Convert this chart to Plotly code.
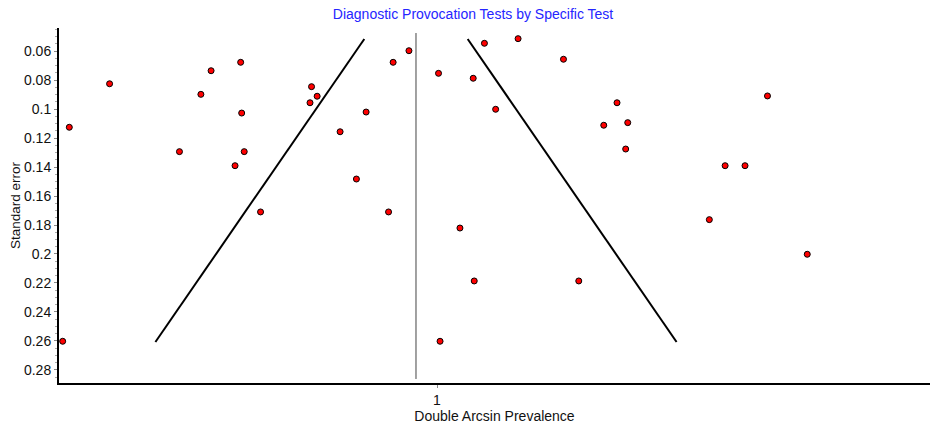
import plotly.graph_objects as go

# -- Study estimates (double arcsin prevalence) and their standard errors
prevalence = [
    0.279, 0.358, 0.495, 0.537, 0.557, 0.615, 0.617, 0.622, 0.604, 0.754,
    0.765, 0.751, 0.810, 0.842, 0.861, 0.914, 0.945, 0.654, 0.905, 0.266,
    1.003, 1.093, 1.159, 1.248, 1.071, 1.115, 1.353, 1.327, 1.374, 1.370,
    1.648, 1.565, 1.604, 1.534, 1.045, 1.006, 1.073, 1.278, 1.726,
]
std_error = [
    0.1126, 0.0826, 0.1294, 0.0899, 0.0736, 0.0678, 0.1028, 0.1294, 0.1391, 0.0846,
    0.0912, 0.0957, 0.1157, 0.1483, 0.1021, 0.0678, 0.0598, 0.1710, 0.1710, 0.2602,
    0.0754, 0.0547, 0.0515, 0.0657, 0.0788, 0.1002, 0.0957, 0.1112, 0.1094, 0.1276,
    0.0910, 0.1391, 0.1391, 0.1763, 0.1821, 0.2602, 0.2186, 0.2186, 0.2002,
]

# -- Pooled estimate and funnel limits
pooled = 0.9588
funnel_se = [0.0517, 0.2607]
pooled_se_span = [0.0476, 0.2862]
y_ticks = [0.06, 0.08, 0.1, 0.12, 0.14, 0.16, 0.18, 0.2, 0.22, 0.24, 0.26, 0.28]
x_ticks = [1]

FONT = "Liberation Sans, Arial, sans-serif"
W, H = 930, 430

fig = go.Figure()

# -- 95% pseudo confidence limits
for sign in (-1, 1):
    fig.add_trace(
        go.Scatter(
            x=[pooled + sign * 1.96 * s for s in funnel_se],
            y=funnel_se,
            mode="lines",
            line=dict(color="black", width=2),
            hoverinfo="skip",
            showlegend=False,
        )
    )

# -- Pooled estimate line
fig.add_trace(
    go.Scatter(
        x=[pooled, pooled],
        y=pooled_se_span,
        mode="lines",
        line=dict(color="#444444", width=1),
        hoverinfo="skip",
        showlegend=False,
    )
)

fig.add_trace(
    go.Scatter(
        x=prevalence,
        y=std_error,
        mode="markers",
        marker=dict(color="#ff0000", size=6, line=dict(color="black", width=1)),
        showlegend=False,
    )
)

fig.update_layout(
    width=W,
    height=H,
    margin=dict(l=59, r=0, t=28, b=47),
    paper_bgcolor="white",
    plot_bgcolor="white",
    font=dict(family=FONT, size=14, color="#111111"),
    title=dict(
        text="Diagnostic Provocation Tests by Specific Test",
        x=473 / W,
        xanchor="center",
        y=1 - 14 / H,
        yanchor="middle",
        font=dict(family=FONT, size=14, color="#2525ff"),
    ),
    xaxis=dict(
        range=[0.2588, 1.9667],
        automargin=False,
        tickvals=x_ticks,
        ticktext=[str(t) for t in x_ticks],
        ticks="outside",
        ticklen=3,
        tickcolor="#888888",
        showgrid=False,
        zeroline=False,
        showline=True,
        linecolor="black",
        linewidth=2,
        title=dict(text="Double Arcsin Prevalence", standoff=2, font=dict(size=14)),
        tickfont=dict(size=14),
    ),
    yaxis=dict(
        range=[0.28897, 0.04414],
        automargin=False,
        tickvals=y_ticks,
        ticktext=[f"{t:g}" for t in y_ticks],
        ticks="outside",
        ticklen=3,
        tickcolor="#888888",
        minor=dict(dtick=0.005, tick0=0, ticks="outside", ticklen=2, tickcolor="#aaaaaa"),
        showgrid=False,
        zeroline=False,
        showline=True,
        linecolor="black",
        linewidth=2,
        title=dict(text="Standard error", standoff=0, font=dict(size=13.5)),
        tickfont=dict(size=14),
    ),
)

# -- drop the default 8px page margin so the figure fills the window exactly
fig.write_html(
    "out.html",
    config={"displayModeBar": False},
    post_script="document.body.style.margin='0';document.body.style.overflow='hidden';",
)
